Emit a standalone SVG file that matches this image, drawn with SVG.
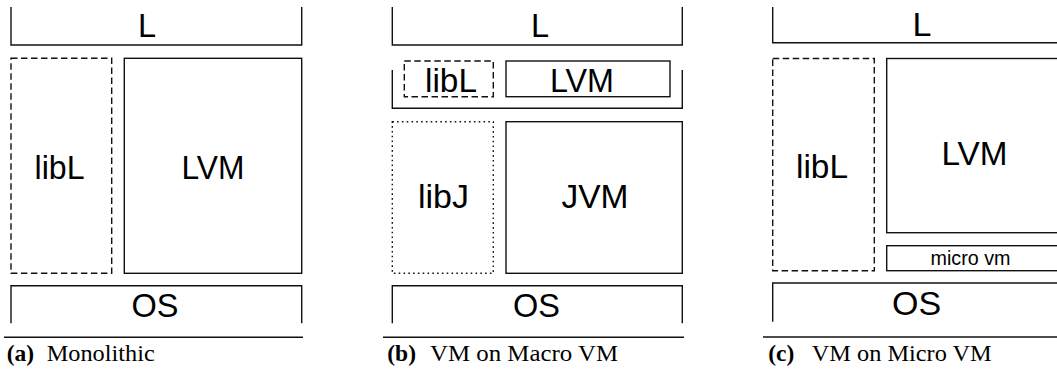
<svg xmlns="http://www.w3.org/2000/svg" width="1057" height="372" viewBox="0 0 1057 372">
<style>
.ln{fill:none;stroke:#111;stroke-width:1.4}
.dash{fill:none;stroke:#111;stroke-width:1.4;stroke-dasharray:6.5 3.5}
.dot{fill:none;stroke:#111;stroke-width:1.4;stroke-dasharray:1.6 3.2}
.t{font-family:"Liberation Sans",Arial,Helvetica,sans-serif;font-size:32.5px;fill:#000;text-anchor:middle}
.tc{font-family:"Liberation Sans",Arial,Helvetica,sans-serif;font-size:34px;fill:#000;text-anchor:middle}
.ts{font-family:"Liberation Sans",Arial,Helvetica,sans-serif;font-size:20px;fill:#000;text-anchor:middle}
.cb{font-family:"Liberation Serif","Times New Roman",serif;font-size:23.5px;font-weight:bold;fill:#000}
.cr{font-family:"Liberation Serif","Times New Roman",serif;font-size:23.5px;fill:#000}
</style>
<!-- Panel a -->
<g id="a-L"><path class="ln" d="M11 7V45H301.7V7"/><text class="t" x="147" y="36.5">L</text></g>
<g id="a-libL"><rect class="dash" x="11" y="58.3" width="100.7" height="215"/><text class="t" x="59.5" y="178.5" textLength="50" lengthAdjust="spacingAndGlyphs">libL</text></g>
<g id="a-LVM"><rect class="ln" x="124.3" y="58.3" width="177.4" height="215"/><text class="t" x="213" y="178.5" textLength="63" lengthAdjust="spacingAndGlyphs">LVM</text></g>
<g id="a-OS"><path class="ln" d="M11 323.3V285.7H301.7V323.3"/><text class="t" x="155" y="316.7">OS</text></g>
<g id="a-caption"><path class="ln" d="M4 337.3H303"/><text class="cb" x="6.7" y="361">(a)</text><text class="cr" x="46.7" y="361" textLength="108" lengthAdjust="spacingAndGlyphs">Monolithic</text></g>
<!-- Panel b -->
<g id="b-L"><path class="ln" d="M392.3 7V45H682.3V7"/><text class="t" x="540" y="36.5">L</text></g>
<g id="b-mid"><path class="ln" d="M392.3 70V108.3H682.3V70"/></g>
<g id="b-libL"><rect class="dash" x="404.3" y="61" width="89" height="35.7"/><text class="t" x="451" y="91.7" textLength="52" lengthAdjust="spacingAndGlyphs">libL</text></g>
<g id="b-LVM"><rect class="ln" x="506" y="61" width="164" height="35.7"/><text class="t" x="582" y="91.7" textLength="64" lengthAdjust="spacingAndGlyphs">LVM</text></g>
<g id="b-libJ"><rect class="dot" x="392.3" y="121.7" width="101" height="151.6"/><text class="t" x="443.5" y="208" textLength="51" lengthAdjust="spacingAndGlyphs">libJ</text></g>
<g id="b-JVM"><rect class="ln" x="506" y="121.7" width="176.3" height="151.6"/><text class="t" x="595" y="208" textLength="67" lengthAdjust="spacingAndGlyphs">JVM</text></g>
<g id="b-OS"><path class="ln" d="M392.3 323.3V285.7H682.3V323.3"/><text class="t" x="536.5" y="316.7">OS</text></g>
<g id="b-caption"><path class="ln" d="M383 337.3H684"/><text class="cb" x="387.3" y="361">(b)</text><text class="cr" x="430" y="361" textLength="188" lengthAdjust="spacingAndGlyphs">VM on Macro VM</text></g>
<!-- Panel c -->
<g id="c-L"><path class="ln" d="M772.7 7V42.7H1070"/><text class="tc" x="922" y="36">L</text></g>
<g id="c-libL"><rect class="dash" x="772.7" y="58.5" width="101.6" height="212.2"/><text class="tc" x="822" y="178.3" textLength="52" lengthAdjust="spacingAndGlyphs">libL</text></g>
<g id="c-LVM"><rect class="ln" x="886.7" y="58.5" width="180" height="174.2"/><text class="tc" x="974.5" y="165" textLength="66" lengthAdjust="spacingAndGlyphs">LVM</text></g>
<g id="c-micro"><rect class="ln" x="886.7" y="245.7" width="180" height="25"/><text class="ts" x="970.5" y="265" textLength="80" lengthAdjust="spacingAndGlyphs">micro vm</text></g>
<g id="c-OS"><path class="ln" d="M772.7 321.7V283H1070"/><text class="tc" x="916.5" y="315">OS</text></g>
<g id="c-caption"><path class="ln" d="M763 337H1057"/><text class="cb" x="768.3" y="361">(c)</text><text class="cr" x="811.7" y="361" textLength="180" lengthAdjust="spacingAndGlyphs">VM on Micro VM</text></g>
</svg>
